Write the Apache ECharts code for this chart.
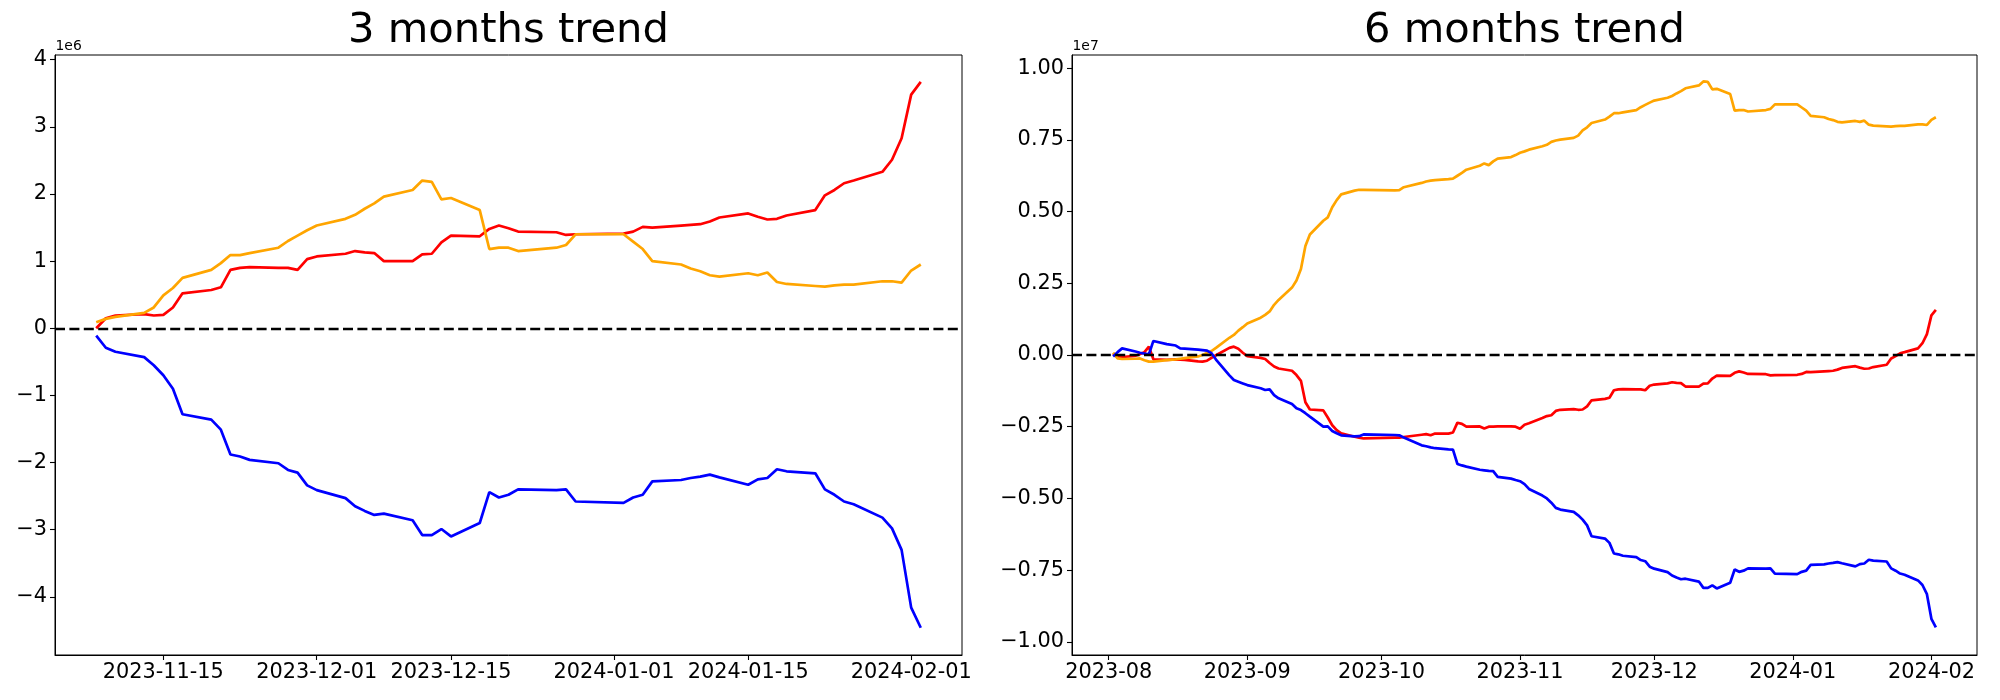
<!DOCTYPE html>
<html>
<head>
<meta charset="utf-8">
<script src="https://cdn.jsdelivr.net/npm/echarts@6/dist/echarts.min.js"></script>
<style>
html,body{margin:0;padding:0;background:#ffffff;}
#chart{width:2000px;height:700px;}
</style>
</head>
<body>
<div id="chart"></div>
<script>
// ---------- 3 months panel (values in units of 1e6) ----------
const dates3 = ['2023-11-08','2023-11-09','2023-11-10','2023-11-13','2023-11-14','2023-11-15','2023-11-16','2023-11-17','2023-11-20','2023-11-21','2023-11-22','2023-11-23','2023-11-24','2023-11-27','2023-11-28','2023-11-29','2023-11-30',
'2023-12-01','2023-12-04','2023-12-05','2023-12-06','2023-12-07','2023-12-08','2023-12-11','2023-12-12','2023-12-13','2023-12-14','2023-12-15','2023-12-18','2023-12-19','2023-12-20','2023-12-21','2023-12-22','2023-12-26','2023-12-27','2023-12-28',
'2024-01-02','2024-01-03','2024-01-04','2024-01-05','2024-01-08','2024-01-09','2024-01-10','2024-01-11','2024-01-12','2024-01-15','2024-01-16','2024-01-17','2024-01-18','2024-01-19','2024-01-22','2024-01-23','2024-01-24','2024-01-25','2024-01-26','2024-01-29','2024-01-30','2024-01-31',
'2024-02-01','2024-02-02'];
const red3 = [0.00,0.15,0.19,0.21,0.19,0.20,0.31,0.52,0.57,0.61,0.87,0.90,0.91,0.90,0.90,0.87,1.03,
1.07,1.11,1.15,1.13,1.12,1.00,1.00,1.10,1.11,1.28,1.38,1.37,1.48,1.53,1.49,1.44,1.43,1.39,1.40,
1.41,1.44,1.51,1.50,1.53,1.54,1.55,1.59,1.65,1.71,1.66,1.62,1.63,1.68,1.76,1.98,2.06,2.16,2.20,2.33,2.51,2.83,
3.48,3.67];
const orange3 = [0.09,0.14,0.17,0.23,0.31,0.49,0.60,0.75,0.87,0.97,1.09,1.09,1.12,1.20,1.30,1.38,1.46,
1.53,1.63,1.69,1.78,1.86,1.96,2.06,2.20,2.18,1.92,1.94,1.76,1.18,1.20,1.20,1.15,1.20,1.24,1.40,
1.40,1.29,1.18,1.00,0.95,0.89,0.85,0.79,0.77,0.82,0.79,0.83,0.69,0.66,0.63,0.62,0.64,0.65,0.65,0.70,0.70,0.68,
0.86,0.95];
const blue3 = [-0.11,-0.29,-0.35,-0.43,-0.55,-0.70,-0.90,-1.28,-1.36,-1.51,-1.88,-1.91,-1.96,-2.01,-2.11,-2.15,-2.34,
-2.41,-2.53,-2.65,-2.72,-2.78,-2.76,-2.86,-3.08,-3.08,-2.99,-3.10,-2.90,-2.44,-2.52,-2.48,-2.40,-2.41,-2.40,-2.58,
-2.60,-2.52,-2.48,-2.28,-2.26,-2.23,-2.21,-2.18,-2.22,-2.33,-2.25,-2.23,-2.10,-2.13,-2.16,-2.40,-2.48,-2.58,-2.62,-2.82,-2.98,-3.30,
-4.16,-4.46];
const xTicks3 = ['2023-11-15','2023-12-01','2023-12-15','2024-01-01','2024-01-15','2024-02-01'];
const yTicks3 = [-4,-3,-2,-1,0,1,2,3,4];

// ---------- 6 months panel (values in units of 1e7) ----------
const dates6 = ['2023-08-02','2023-08-03','2023-08-04','2023-08-07','2023-08-08','2023-08-09','2023-08-10','2023-08-11','2023-08-14','2023-08-16','2023-08-17','2023-08-18','2023-08-21','2023-08-22','2023-08-23','2023-08-24','2023-08-25','2023-08-28','2023-08-29','2023-08-30','2023-08-31',
'2023-09-01','2023-09-04','2023-09-05','2023-09-06','2023-09-07','2023-09-08','2023-09-11','2023-09-12','2023-09-13','2023-09-14','2023-09-15','2023-09-18','2023-09-19','2023-09-20','2023-09-21','2023-09-22','2023-09-25','2023-09-26','2023-09-27',
'2023-10-04','2023-10-05','2023-10-06','2023-10-10','2023-10-11','2023-10-12','2023-10-13','2023-10-16','2023-10-17','2023-10-18','2023-10-19','2023-10-20','2023-10-23','2023-10-24','2023-10-25','2023-10-26','2023-10-27','2023-10-30','2023-10-31',
'2023-11-01','2023-11-02','2023-11-03','2023-11-06','2023-11-07','2023-11-08','2023-11-09','2023-11-10','2023-11-13','2023-11-14','2023-11-15','2023-11-16','2023-11-17','2023-11-20','2023-11-21','2023-11-22','2023-11-23','2023-11-24','2023-11-27','2023-11-28','2023-11-29','2023-11-30',
'2023-12-01','2023-12-04','2023-12-05','2023-12-06','2023-12-07','2023-12-08','2023-12-11','2023-12-12','2023-12-13','2023-12-14','2023-12-15','2023-12-18','2023-12-19','2023-12-20','2023-12-21','2023-12-22','2023-12-26','2023-12-27','2023-12-28',
'2024-01-02','2024-01-03','2024-01-04','2024-01-05','2024-01-08','2024-01-09','2024-01-10','2024-01-11','2024-01-12','2024-01-15','2024-01-16','2024-01-17','2024-01-18','2024-01-19','2024-01-22','2024-01-23','2024-01-24','2024-01-25','2024-01-26','2024-01-29','2024-01-30','2024-01-31',
'2024-02-01','2024-02-02'];
const red6 = [0.006,-0.008,-0.007,-0.003,0.003,0.010,0.029,-0.015,-0.017,-0.015,-0.016,-0.017,-0.022,-0.023,-0.020,-0.010,-0.001,0.025,0.029,0.022,0.008,
-0.004,-0.010,-0.014,-0.028,-0.040,-0.047,-0.055,-0.070,-0.090,-0.165,-0.190,-0.193,-0.218,-0.245,-0.262,-0.273,-0.285,-0.288,-0.291,
-0.288,-0.288,-0.286,-0.278,-0.276,-0.280,-0.274,-0.274,-0.270,-0.236,-0.240,-0.250,-0.249,-0.256,-0.250,-0.250,-0.249,-0.249,-0.250,
-0.257,-0.243,-0.238,-0.220,-0.213,-0.210,-0.195,-0.191,-0.189,-0.191,-0.190,-0.179,-0.158,-0.153,-0.149,-0.123,-0.120,-0.119,-0.120,-0.120,-0.123,-0.107,
-0.103,-0.099,-0.095,-0.097,-0.098,-0.110,-0.110,-0.100,-0.099,-0.082,-0.072,-0.073,-0.062,-0.057,-0.061,-0.066,-0.067,-0.071,-0.070,
-0.069,-0.066,-0.059,-0.060,-0.057,-0.056,-0.055,-0.051,-0.045,-0.039,-0.044,-0.048,-0.047,-0.042,-0.034,-0.012,-0.004,0.006,0.010,0.023,0.041,0.073,
0.138,0.157];
const orange6 = [0.008,-0.012,-0.014,-0.013,-0.012,-0.018,-0.023,-0.023,-0.018,-0.015,-0.013,-0.011,-0.005,0.000,0.007,0.014,0.025,0.060,0.070,0.085,0.097,
0.110,0.130,0.140,0.152,0.175,0.192,0.235,0.260,0.300,0.380,0.420,0.468,0.480,0.515,0.540,0.560,0.573,0.576,0.576,
0.574,0.575,0.585,0.600,0.605,0.608,0.610,0.613,0.615,0.625,0.635,0.646,0.660,0.668,0.662,0.675,0.685,0.690,0.697,
0.705,0.710,0.716,0.728,0.733,0.743,0.748,0.751,0.757,0.765,0.783,0.794,0.809,0.821,0.831,0.843,0.843,0.846,0.854,0.864,0.872,0.880,
0.887,0.897,0.903,0.912,0.920,0.930,0.940,0.954,0.952,0.926,0.928,0.910,0.852,0.854,0.854,0.849,0.854,0.858,0.874,
0.874,0.863,0.852,0.834,0.829,0.823,0.819,0.813,0.811,0.816,0.813,0.817,0.803,0.800,0.797,0.796,0.798,0.799,0.799,0.804,0.804,0.802,
0.820,0.829];
const blue6 = [-0.005,0.010,0.023,0.012,0.008,0.005,0.002,0.049,0.038,0.033,0.023,0.022,0.019,0.017,0.015,0.006,-0.016,-0.071,-0.087,-0.093,-0.099,
-0.105,-0.116,-0.122,-0.120,-0.140,-0.151,-0.171,-0.186,-0.192,-0.203,-0.215,-0.250,-0.249,-0.265,-0.273,-0.280,-0.284,-0.283,-0.277,
-0.279,-0.280,-0.288,-0.315,-0.318,-0.322,-0.325,-0.329,-0.330,-0.380,-0.385,-0.389,-0.400,-0.402,-0.404,-0.405,-0.425,-0.431,-0.436,
-0.440,-0.450,-0.467,-0.490,-0.500,-0.515,-0.533,-0.539,-0.547,-0.559,-0.574,-0.594,-0.632,-0.640,-0.655,-0.692,-0.695,-0.700,-0.705,-0.715,-0.719,-0.738,
-0.745,-0.757,-0.769,-0.776,-0.782,-0.780,-0.790,-0.812,-0.812,-0.803,-0.814,-0.794,-0.748,-0.756,-0.752,-0.744,-0.745,-0.744,-0.762,
-0.764,-0.756,-0.752,-0.732,-0.730,-0.727,-0.725,-0.722,-0.726,-0.737,-0.729,-0.727,-0.714,-0.717,-0.720,-0.744,-0.752,-0.762,-0.766,-0.786,-0.802,-0.834,
-0.920,-0.950];
const xTicks6 = ['2023-08-01','2023-09-01','2023-10-01','2023-11-01','2023-12-01','2024-01-01','2024-02-01'];
const yTicks6 = [-1,-0.75,-0.5,-0.25,0,0.25,0.5,0.75,1];

const titles = ['3 months trend','6 months trend'];
const offsets = ['1e6','1e7'];

// ---------- helpers ----------
const ts = s => { const p = s.split('-').map(Number); return Date.UTC(p[0], p[1]-1, p[2]); };
const pad = n => String(n).padStart(2,'0');
const fmtDay = t => { const d = new Date(t); return d.getUTCFullYear()+'-'+pad(d.getUTCMonth()+1)+'-'+pad(d.getUTCDate()); };
const fmtMon = t => { const d = new Date(t); return d.getUTCFullYear()+'-'+pad(d.getUTCMonth()+1); };
const minus = s => s.replace('-', '\u2212');
const pairs = (dates, vals) => dates.map((d,i)=>[ts(d), vals[i]]);

const FONT = 'DejaVu Sans';
const TICK_FS = 20.83;

function xAxisCfg(idx, ticks, fmt, dates){
  const a = ts(dates[0]), b = ts(dates[dates.length-1]);
  const m = (b - a) * 0.05;
  const vals = ticks.map(ts);
  return {
    type:'value', gridIndex: idx, min: a - m, max: b + m, scale: true,
    axisLine:{show:true, onZero:false, lineStyle:{color:'#000', width:1}},
    axisTick:{show:true, length:5, lineStyle:{color:'#000', width:1.1}, customValues: vals},
    axisLabel:{show:true, customValues: vals, formatter: v => fmt(v), color:'#000',
      fontFamily: FONT, fontSize: TICK_FS, margin: 7},
    splitLine:{show:false}
  };
}
function yAxisCfg(idx, ticks, min, max, fmt){
  return {
    type:'value', gridIndex: idx, min: min, max: max,
    axisLine:{show:true, onZero:false, lineStyle:{color:'#000', width:1}},
    axisTick:{show:true, length:5, lineStyle:{color:'#000', width:1.1}, customValues: ticks},
    axisLabel:{show:true, customValues: ticks, formatter: v => minus(fmt(v)), color:'#000',
      fontFamily: FONT, fontSize: TICK_FS, margin: 8},
    splitLine:{show:false}
  };
}
function lineSeries(idx, data, color){
  return {type:'line', xAxisIndex: idx, yAxisIndex: idx, data: data, showSymbol:false, symbol:'none',
    lineStyle:{color: color, width: 2.7}, itemStyle:{color: color}, smooth:false, silent:true, animation:false};
}
function zeroLine(idx){
  return {type:'line', xAxisIndex: idx, yAxisIndex: idx, data: [], silent:true, animation:false,
    markLine:{silent:true, symbol:['none','none'], label:{show:false}, animation:false,
      lineStyle:{color:'#000', type:[10,4.4], width:2.4}, data:[{yAxis:0}]}};
}

const grids = [
  {left:55, top:55, width:907, height:600},
  {left:1072, top:55, width:905, height:600}
];

const option = {
  backgroundColor:'#ffffff',
  animation:false,
  textStyle:{fontFamily: FONT},
  grid: grids.map(g => Object.assign({show:true, borderColor:'#000', borderWidth:1, backgroundColor:'transparent', containLabel:false}, g)),
  xAxis: [ xAxisCfg(0, xTicks3, fmtDay, dates3), xAxisCfg(1, xTicks6, fmtMon, dates6) ],
  yAxis: [
    yAxisCfg(0, yTicks3, -4.866, 4.07, v => String(v)),
    yAxisCfg(1, yTicks6, -1.046, 1.046, v => v.toFixed(2))
  ],
  series: [
    lineSeries(0, pairs(dates3, red3), '#ff0000'),
    lineSeries(0, pairs(dates3, orange3), '#ffa500'),
    lineSeries(0, pairs(dates3, blue3), '#0000ff'),
    zeroLine(0),
    lineSeries(1, pairs(dates6, red6), '#ff0000'),
    lineSeries(1, pairs(dates6, orange6), '#ffa500'),
    lineSeries(1, pairs(dates6, blue6), '#0000ff'),
    zeroLine(1)
  ],
  graphic: [
    {type:'text', x: 508.5, y: 31.3, style:{text: titles[0], fill:'#000', font: '41.67px "DejaVu Sans"', textAlign:'center', textVerticalAlign:'middle'}},
    {type:'text', x: 1524.5, y: 31.3, style:{text: titles[1], fill:'#000', font: '41.67px "DejaVu Sans"', textAlign:'center', textVerticalAlign:'middle'}},
    {type:'text', x: 55.5, y: 46, style:{text: offsets[0], fill:'#000', font: '13.9px "DejaVu Sans"', textAlign:'left', textVerticalAlign:'middle'}},
    {type:'text', x: 1072.5, y: 46, style:{text: offsets[1], fill:'#000', font: '13.9px "DejaVu Sans"', textAlign:'left', textVerticalAlign:'middle'}}
  ]
};

const chart = echarts.init(document.getElementById('chart'), null, {renderer:'canvas', width:2000, height:700});
chart.setOption(option);
</script>
</body>
</html>
